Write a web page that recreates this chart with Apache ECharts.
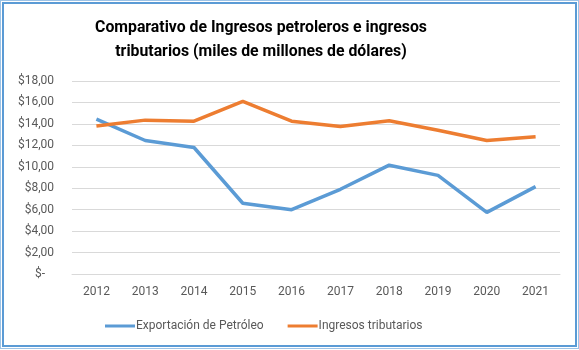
<!DOCTYPE html>
<html>
<head>
<meta charset="utf-8">
<script src="https://cdn.jsdelivr.net/npm/echarts@6/dist/echarts.min.js"></script>
<style>
  html, body { margin: 0; padding: 0; background: #fff; }
  /* marco azul alrededor del gráfico */
  #frame {
    position: absolute; left: 0; top: 0;
    width: 579px; height: 349px;
    box-sizing: border-box;
    border: 1px solid #9dc3e6;
    padding: 1px;
  }
  #chart {
    width: 100%; height: 100%;
    box-sizing: border-box;
    border: 2px solid #5b9bd5;
  }
</style>
</head>
<body>
<div id="frame"><div id="chart"></div></div>
<script>
// datos del gráfico
const years = ['2012', '2013', '2014', '2015', '2016', '2017', '2018', '2019', '2020', '2021']
const exportPetroleo = [14.45, 12.45, 11.8, 6.6, 6.0, 7.9, 10.15, 9.2, 5.75, 8.15]
const ingresosTributarios = [13.8, 14.35, 14.25, 16.1, 14.25, 13.75, 14.3, 13.4, 12.45, 12.8]
const seriesNames = ['Exportación de Petróleo', 'Ingresos tributarios']

const fontFam = 'Roboto, "Liberation Sans", sans-serif'
const mychart = echarts.init(document.getElementById('chart'))
mychart.setOption({
  animation: false,
  //título (centrado un poco a la izquierda, como el original)
  title: {
    text: 'Comparativo de Ingresos petroleros e ingresos\ntributarios (miles de millones de dólares)',
    left: 257,
    top: 12,
    textAlign: 'center',
    padding: 0,
    textStyle: {
      color: '#000',
      fontSize: 15.8,
      fontWeight: 'bold',
      fontFamily: fontFam,
      lineHeight: 24
    }
  },
  grid: {
    left: 68,
    right: 15,
    top: 77,
    bottom: 71
  },
  legend: {
    bottom: 8,
    left: 96,
    itemWidth: 30,
    itemHeight: 3,
    itemGap: 24,
    icon: 'rect',
    textStyle: { color: '#595959', fontSize: 12, fontFamily: fontFam, padding: [0, 0, 0, -4] },
    data: seriesNames
  },
  xAxis: {
    type: 'category',
    data: years,
    boundaryGap: true,
    axisLine: { lineStyle: { color: '#d9d9d9' } },
    axisTick: { show: false },
    axisLabel: { color: '#595959', fontSize: 12, fontFamily: fontFam, margin: 12 }
  },
  yAxis: {
    type: 'value',
    min: 0,
    max: 18,
    interval: 2,
    axisLine: { show: false },
    axisTick: { show: false },
    splitLine: { lineStyle: { color: '#d9d9d9' } },
    axisLabel: {
      color: '#595959', fontSize: 12, fontFamily: fontFam, margin: 18,
      formatter: function (v) {
        if (v === 0) return '$-   '
        return '$' + v.toFixed(2).replace('.', ',')
      }
    }
  },
  series: [
    {
      name: seriesNames[0],
      type: 'line',
      data: exportPetroleo,
      symbol: 'none',
      lineStyle: { color: '#5b9bd5', width: 3.5 },
      itemStyle: { color: '#5b9bd5' }
    },
    {
      name: seriesNames[1],
      type: 'line',
      data: ingresosTributarios,
      symbol: 'none',
      lineStyle: { color: '#ed7d31', width: 3.5 },
      itemStyle: { color: '#ed7d31' }
    }
  ]
})
</script>
</body>
</html>
